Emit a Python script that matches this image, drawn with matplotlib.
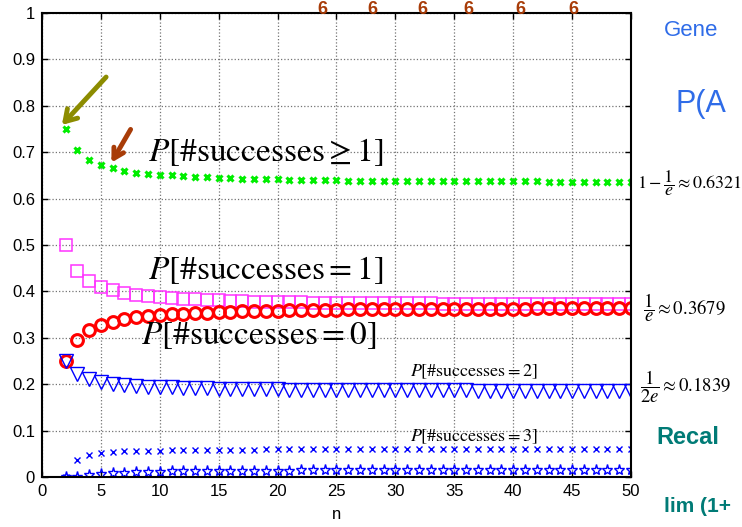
import matplotlib
matplotlib.use("Agg")
import matplotlib.pyplot as plt

# ---------------- data ----------------
n = list(range(2, 51))

p_ge1 = [0.750, 0.704, 0.684, 0.672, 0.665, 0.660, 0.656,
         0.654, 0.651, 0.650, 0.648, 0.647, 0.646, 0.645,
         0.644, 0.643, 0.643, 0.642, 0.642, 0.641, 0.641,
         0.640, 0.640, 0.640, 0.639, 0.639, 0.639, 0.639,
         0.638, 0.638, 0.638, 0.638, 0.638, 0.637, 0.637,
         0.637, 0.637, 0.637, 0.637, 0.637, 0.637, 0.636,
         0.636, 0.636, 0.636, 0.636, 0.636, 0.636, 0.636]

p_eq1 = [0.500, 0.444, 0.422, 0.410, 0.402, 0.397, 0.393,
         0.390, 0.387, 0.386, 0.384, 0.383, 0.382, 0.381,
         0.380, 0.379, 0.378, 0.378, 0.377, 0.377, 0.377,
         0.376, 0.376, 0.375, 0.375, 0.375, 0.375, 0.374,
         0.374, 0.374, 0.374, 0.374, 0.373, 0.373, 0.373,
         0.373, 0.373, 0.373, 0.373, 0.372, 0.372, 0.372,
         0.372, 0.372, 0.372, 0.372, 0.372, 0.372, 0.372]

p_eq0 = [0.250, 0.296, 0.316, 0.328, 0.335, 0.340, 0.344,
         0.346, 0.349, 0.351, 0.352, 0.353, 0.354, 0.355,
         0.356, 0.357, 0.357, 0.358, 0.358, 0.359, 0.359,
         0.360, 0.360, 0.360, 0.361, 0.361, 0.361, 0.361,
         0.362, 0.362, 0.362, 0.362, 0.362, 0.363, 0.363,
         0.363, 0.363, 0.363, 0.363, 0.363, 0.364, 0.364,
         0.364, 0.364, 0.364, 0.364, 0.364, 0.364, 0.364]

p_eq2 = [0.250, 0.222, 0.211, 0.205, 0.201, 0.198, 0.196,
         0.195, 0.194, 0.193, 0.192, 0.191, 0.191, 0.190,
         0.190, 0.190, 0.189, 0.189, 0.189, 0.188, 0.188,
         0.188, 0.188, 0.188, 0.188, 0.187, 0.187, 0.187,
         0.187, 0.187, 0.187, 0.187, 0.187, 0.187, 0.187,
         0.186, 0.186, 0.186, 0.186, 0.186, 0.186, 0.186,
         0.186, 0.186, 0.186, 0.186, 0.186, 0.186, 0.186]

p_eq3 = [0.000, 0.037, 0.047, 0.051, 0.054, 0.055, 0.056,
         0.057, 0.057, 0.058, 0.058, 0.059, 0.059, 0.059,
         0.059, 0.059, 0.059, 0.060, 0.060, 0.060, 0.060,
         0.060, 0.060, 0.060, 0.060, 0.060, 0.060, 0.060,
         0.060, 0.060, 0.060, 0.060, 0.060, 0.060, 0.060,
         0.060, 0.061, 0.061, 0.061, 0.061, 0.061, 0.061,
         0.061, 0.061, 0.061, 0.061, 0.061, 0.061, 0.061]

p_eq4 = [0.000, 0.000, 0.004, 0.006, 0.008, 0.009, 0.010,
         0.011, 0.011, 0.012, 0.012, 0.012, 0.012, 0.013,
         0.013, 0.013, 0.013, 0.013, 0.013, 0.013, 0.014,
         0.014, 0.014, 0.014, 0.014, 0.014, 0.014, 0.014,
         0.014, 0.014, 0.014, 0.014, 0.014, 0.014, 0.014,
         0.014, 0.014, 0.014, 0.014, 0.014, 0.014, 0.014,
         0.014, 0.015, 0.015, 0.015, 0.015, 0.015, 0.015]

x_ticks = [0, 5, 10, 15, 20, 25, 30, 35, 40, 45, 50]
y_ticks = [0, 0.1, 0.2, 0.3, 0.4, 0.5, 0.6, 0.7, 0.8, 0.9, 1]
y_tick_labels = ["0", "0.1", "0.2", "0.3", "0.4", "0.5", "0.6", "0.7", "0.8", "0.9", "1"]

# ---------------- figure ----------------
plt.rcParams["mathtext.fontset"] = "stix"
plt.rcParams["font.family"] = ["Liberation Sans", "DejaVu Sans"]

fig = plt.figure(figsize=(7.42, 5.27), dpi=100)
ax = fig.add_axes([0.0566, 0.0949, 0.7938, 0.8804])

ax.plot(n, p_ge1, linestyle="none", marker="x", color="#00ee00",
        markersize=4, markeredgewidth=2.2)
ax.plot(n, p_eq1, linestyle="none", marker="s", markerfacecolor="none",
        markeredgecolor="#ff33ff", markersize=8.5, markeredgewidth=1.1)
ax.plot(n, p_eq0, linestyle="none", marker="o", markerfacecolor="none",
        markeredgecolor="#ff0000", markersize=8.5, markeredgewidth=2.2)
ax.plot(n, p_eq2, linestyle="none", marker="v", markerfacecolor="none",
        markeredgecolor="#0000ff", markersize=10, markeredgewidth=1.0)
ax.plot(n, p_eq3, linestyle="none", marker="x", color="#0000ff",
        markersize=5, markeredgewidth=1.0)
ax.plot(n, p_eq4, linestyle="none", marker="*", markerfacecolor="none",
        markeredgecolor="#0000ff", markersize=8, markeredgewidth=1.0)

ax.set_xlim(0, 50)
ax.set_ylim(0, 1)
ax.set_xticks(x_ticks)
ax.set_yticks(y_ticks)
ax.set_yticklabels(y_tick_labels)
ax.tick_params(direction="in", top=True, right=True, length=4, width=1,
               labelsize=12, pad=5)
ax.grid(True, color="0.45", linestyle=":", linewidth=0.9)
ax.set_axisbelow(True)
for s in ax.spines.values():
    s.set_linewidth(1.5)
ax.set_xlabel("n", fontsize=12, labelpad=6)

# ---------------- in-plot annotations ----------------
big = 24
ax.text(9.0, 0.70, r"$P\left[\#\mathrm{successes}\geq 1\right]$",
        fontsize=big, va="center", ha="left")
ax.text(9.0, 0.445, r"$P\left[\#\mathrm{successes}=1\right]$",
        fontsize=big, va="center", ha="left")
ax.text(8.4, 0.305, r"$P\left[\#\mathrm{successes}=0\right]$",
        fontsize=big, va="center", ha="left")
small = 13
ax.text(31.2, 0.226, r"$P\left[\#\mathrm{successes}=2\right]$",
        fontsize=small, va="center", ha="left")
ax.text(31.2, 0.087, r"$P\left[\#\mathrm{successes}=3\right]$",
        fontsize=small, va="center", ha="left")

ax.text(50.55, 0.634, r"$1-\dfrac{1}{e}\approx 0.6321$", fontsize=13,
        va="center", ha="left", clip_on=False)
ax.text(51.0, 0.366, r"$\dfrac{1}{e}\approx 0.3679$", fontsize=13.5,
        va="center", ha="left", clip_on=False)
ax.text(50.8, 0.194, r"$\dfrac{1}{2e}\approx 0.1839$", fontsize=13.5,
        va="center", ha="left", clip_on=False)

# ---------------- handwritten overlay ----------------
olive = "#8c8c00"
brown = "#a83c08"
blue_ink = "#2f6ce8"
teal_ink = "#007b76"
fig.add_artist(matplotlib.patches.FancyArrowPatch(
    (108 / 742, 1 - 75 / 527), (60 / 742, 1 - 127 / 527),
    transform=fig.transFigure, arrowstyle="->,head_length=8,head_width=5",
    color=olive, linewidth=3.5))
fig.add_artist(matplotlib.patches.FancyArrowPatch(
    (132 / 742, 1 - 127 / 527), (110 / 742, 1 - 165 / 527),
    transform=fig.transFigure, arrowstyle="->,head_length=7,head_width=4",
    color=brown, linewidth=3.5))
for xp in [322, 372, 422, 468, 520, 573]:
    fig.text(xp / 742, 1 - 9 / 527, "6", color=brown, fontsize=13,
             fontweight="bold", ha="center", va="center")
fig.text(664 / 742, 1 - 30 / 527, "Gene", color=blue_ink, fontsize=16,
         ha="left", va="center")
fig.text(676 / 742, 1 - 104 / 527, "P(A", color=blue_ink, fontsize=22,
         ha="left", va="center")
fig.text(656 / 742, 1 - 437 / 527, "Recal", color=teal_ink, fontsize=17,
         fontweight="bold", ha="left", va="center")
fig.text(664 / 742, 1 - 506 / 527, "lim (1+", color=teal_ink, fontsize=15,
         fontweight="bold", ha="left", va="center")

fig.savefig("out.png", dpi=100)
